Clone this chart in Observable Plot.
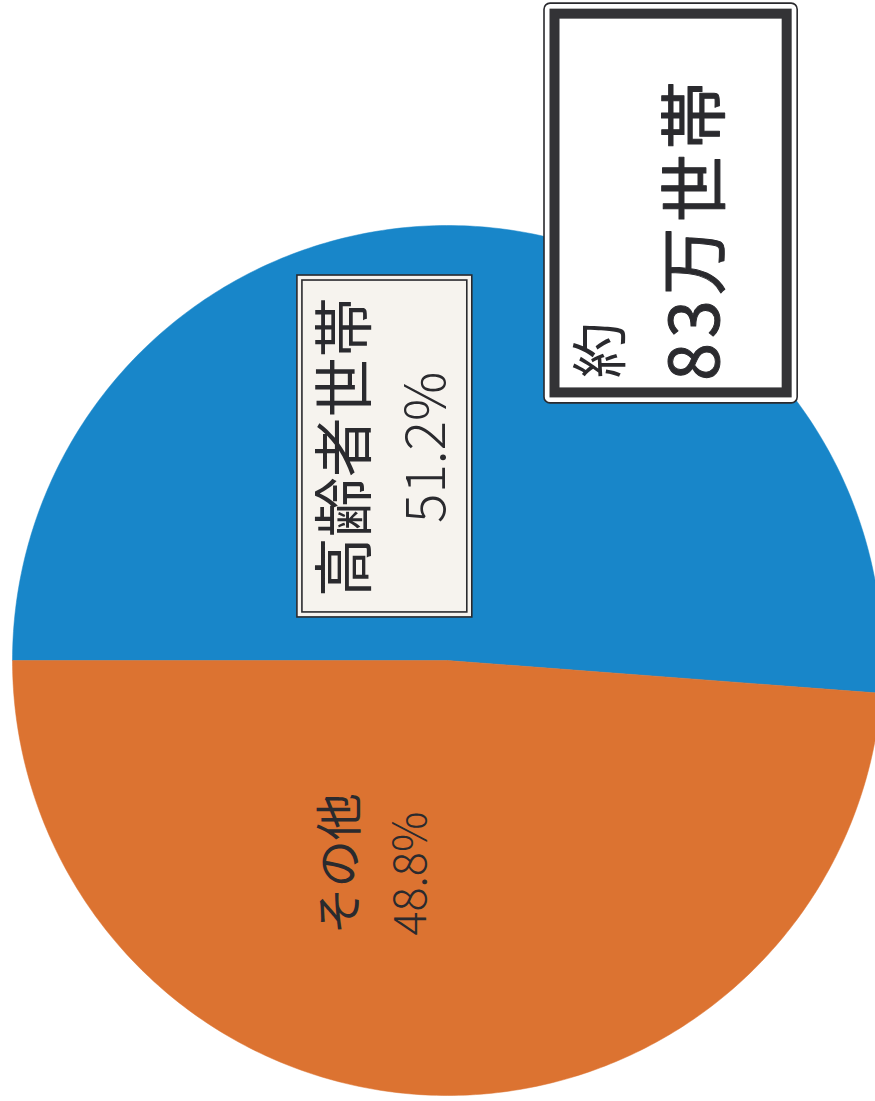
<!DOCTYPE html>
<html><head><meta charset="utf-8">
<script src="https://cdn.jsdelivr.net/npm/d3@7"></script>
<script src="https://cdn.jsdelivr.net/npm/@observablehq/plot@0.6"></script>
<style>
body{margin:0;background:#fff;overflow:hidden}
#chart svg{overflow:hidden;display:block}
</style>
</head><body><div id="chart"></div>
<script>
// ---- data ----
const categories = ["高齢者世帯", "その他"];
const shares = [51.2, 48.8];
const shareLabels = ["51.2%", "48.8%"];
const totalPrefix = "約";
const totalLabel = "83万世帯";
const colors = ["#1886c9", "#dc7331"];

// ---- layout (pie units: centre 0,0, radius 1) ----
const nameAt = [[-0.232, 0.49], [-0.246, -0.467]];
const valueAt = [[-0.046, 0.49], [-0.083, -0.49]];
const nameSize = [60, 47];
const valueSize = [55, 45];
const labelBox = {x1: -0.345, x2: 0.057, y1: 0.099, y2: 0.885};
const totalBox = {x1: 0.223, x2: 0.805, y1: 0.591, y2: 1.510};
const totalPrefixAt = [0.356, 0.713];
const totalLabelAt = [0.575, 0.993];

// ---- slices ----
const sum = d3.sum(shares);
const start = Math.PI; // slice starts at the left, runs clockwise
let acc = 0;
const slicePts = [];
categories.forEach((c, i) => {
  const a0 = start - 2 * Math.PI * acc / sum;
  acc += shares[i];
  const a1 = start - 2 * Math.PI * acc / sum;
  const n = 240;
  slicePts.push({cat: c, x: 0, y: 0});
  for (let k = 0; k <= n; k++) {
    const a = a0 + (a1 - a0) * k / n;
    slicePts.push({cat: c, x: Math.cos(a), y: Math.sin(a)});
  }
  slicePts.push({cat: c, x: 0, y: 0});
});

const names = categories.map((c, i) => ({text: c, x: nameAt[i][0], y: nameAt[i][1], size: nameSize[i]}));
const values = shareLabels.map((t, i) => ({text: t, x: valueAt[i][0], y: valueAt[i][1], size: valueSize[i]}));

const font = "'Noto Sans CJK JP', 'Noto Sans', sans-serif";
const ink = "#2a2a2e";

const marks = [
  Plot.line(slicePts, {x: "x", y: "y", z: "cat", fill: "cat", stroke: "cat", strokeWidth: 0.5, curve: "linear"}),
  Plot.rect([labelBox], {x1: "x1", x2: "x2", y1: "y1", y2: "y2", fill: "#f6f3ee", stroke: ink, strokeWidth: 1.6}),
  Plot.rect([labelBox], {x1: "x1", x2: "x2", y1: "y1", y2: "y2", fill: "none", stroke: ink, strokeWidth: 1.6, inset: 5}),
  Plot.rect([totalBox], {x1: "x1", x2: "x2", y1: "y1", y2: "y2", fill: "#ffffff", stroke: ink, strokeWidth: 1.6, rx: 6}),
  Plot.rect([totalBox], {x1: "x1", x2: "x2", y1: "y1", y2: "y2", fill: "none", stroke: "#333336", strokeWidth: 10, inset: 10.5}),
];
names.forEach(d => marks.push(Plot.text([d], {x: "x", y: "y", text: "text", rotate: -90, fontSize: d.size, fontFamily: font, fill: ink, textAnchor: "middle", lineAnchor: "middle"})));
values.forEach(d => marks.push(Plot.text([d], {x: "x", y: "y", text: "text", rotate: -90, fontSize: d.size, fontFamily: font, fontWeight: 300, fill: ink, textAnchor: "middle", lineAnchor: "middle"})));
marks.push(Plot.text([{text: totalPrefix, x: totalPrefixAt[0], y: totalPrefixAt[1]}], {x: "x", y: "y", text: "text", rotate: -90, fontSize: 56, fontFamily: font, fill: ink, textAnchor: "middle", lineAnchor: "middle"}));
marks.push(Plot.text([{text: totalLabel, x: totalLabelAt[0], y: totalLabelAt[1]}], {x: "x", y: "y", text: "text", rotate: -90, fontSize: 68, fontFamily: font, fill: ink, stroke: ink, strokeWidth: 1, textAnchor: "middle", lineAnchor: "middle"}));

const chart = Plot.plot({
  width: 875,
  height: 1101,
  margin: 0,
  x: {domain: [-1, 1], range: [12, 882], axis: null},
  y: {domain: [-1, 1], range: [1095, 225], axis: null},
  color: {domain: categories, range: colors},
  style: {background: "#ffffff"},
  marks
});
d3.select(chart).selectAll("text").filter(function() { return this.textContent === totalLabel; })
  .style("letter-spacing", "5px");
document.getElementById("chart").appendChild(chart);
</script>
</body></html>
